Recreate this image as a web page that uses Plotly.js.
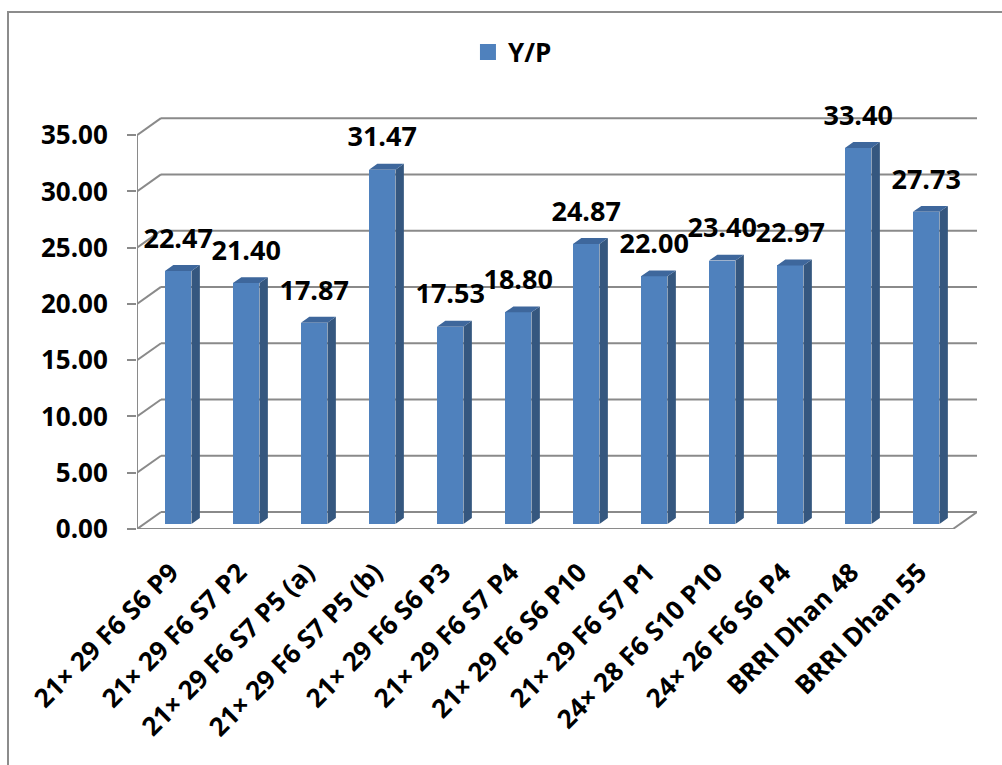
<!DOCTYPE html>
<html>
<head>
<meta charset="utf-8">
<script src="https://cdn.plot.ly/plotly-3.0.1.min.js"></script>
<style>
  html, body { margin: 0; padding: 0; background: #ffffff; }
  #wrap { position: relative; width: 1002px; height: 765px; overflow: hidden; }
  #chart { position: absolute; left: 0; top: 0; width: 1002px; height: 765px; }
  #frame { position: absolute; left: 7px; top: 11px; width: 1000px; height: 752px;
           border-left: 2px solid #8c8c8c; border-top: 2px solid #8c8c8c; pointer-events: none; }
</style>
</head>
<body>
<div id="wrap">
  <div id="chart"></div>
  <div id="frame"></div>
</div>
<script>
// ---- data ----
const categories = [
  "21× 29 F6 S6 P9", "21× 29 F6 S7 P2", "21× 29 F6 S7 P5 (a)", "21× 29 F6 S7 P5 (b)",
  "21× 29 F6 S6 P3", "21× 29 F6 S7 P4", "21× 29 F6 S6 P10", "21× 29 F6 S7 P1",
  "24× 28 F6 S10 P10", "24× 26 F6 S6 P4", "BRRI Dhan 48", "BRRI Dhan 55"
];
const ypValues = [22.47, 21.40, 17.87, 31.47, 17.53, 18.80, 24.87, 22.00, 23.40, 22.97, 33.40, 27.73];
const seriesName = "Y/P";
const yTickValues = [0, 5, 10, 15, 20, 25, 30, 35];

// ---- 3D look (styling constants, axis units) ----
const DEPTH_X = 0.353, DEPTH_Y = 1.51;   // back-wall offset
const Z0 = 0.30, Z1 = 0.65;              // bar depth span (fraction of depth)
const BAR_W = 0.39;
const LABEL_GAP = 2.67;
const FRONT = "#4F81BD", SIDE = "#35577F", TOP = "#3E679C", GRID = "#8a8a8a";
const FONT = "'Open Sans', 'Noto Sans', sans-serif";

const n = categories.length;
const centers = categories.map((_, i) => i + 0.5);

// side and top faces
const sideX = [], sideY = [], topX = [], topY = [];
ypValues.forEach((v, i) => {
  const xl = centers[i] - BAR_W / 2 + Z0 * DEPTH_X;
  const xr = centers[i] + BAR_W / 2 + Z0 * DEPTH_X;
  const ddx = (Z1 - Z0) * DEPTH_X, y0 = Z0 * DEPTH_Y, y1 = Z1 * DEPTH_Y;
  sideX.push(xr, xr + ddx, xr + ddx, xr, xr, null);
  sideY.push(y0, y1, v + y1, v + y0, y0, null);
  topX.push(xl, xl + ddx, xr + ddx, xr, xl, null);
  topY.push(v + y0, v + y1, v + y1, v + y0, v + y0, null);
});

// frame lines (front axes, tick marks)
const tickLen = 0.8;
const frameX = [0, 0, null, 0, n, null], frameY = [0, yTickValues[yTickValues.length - 1], null, 0, 0, null];
for (let k = 0; k <= n; k++) { frameX.push(k, k, null); frameY.push(0, -tickLen, null); }

// back wall gridlines + side diagonals as shapes below the bars
const shapes = [];
yTickValues.forEach(v => {
  shapes.push({type: "line", xref: "x", yref: "y", layer: "below",
    x0: DEPTH_X, x1: n + DEPTH_X, y0: v + DEPTH_Y, y1: v + DEPTH_Y, line: {color: GRID, width: 2}});
  shapes.push({type: "line", xref: "x", yref: "y", layer: "below",
    x0: 0, x1: DEPTH_X, y0: v, y1: v + DEPTH_Y, line: {color: GRID, width: 2}});
});
shapes.push({type: "line", xref: "x", yref: "y", layer: "below",
  x0: n, x1: n + DEPTH_X, y0: 0, y1: DEPTH_Y, line: {color: GRID, width: 2}});

const traces = [
  { type: "bar", x: centers.map(c => c + Z0 * DEPTH_X), y: ypValues, base: Z0 * DEPTH_Y,
    width: BAR_W, marker: {color: FRONT, line: {width: 0}}, showlegend: false, name: seriesName,
    hoverinfo: "skip" },
  { type: "scatter", mode: "lines", x: sideX, y: sideY, fill: "toself", fillcolor: SIDE,
    line: {width: 0, color: SIDE}, showlegend: false, hoverinfo: "skip" },
  { type: "scatter", mode: "lines", x: topX, y: topY, fill: "toself", fillcolor: TOP,
    line: {width: 0, color: TOP}, showlegend: false, hoverinfo: "skip" },
  { type: "scatter", mode: "lines", x: frameX, y: frameY, line: {color: GRID, width: 2},
    cliponaxis: false, showlegend: false, hoverinfo: "skip" },
  { type: "scatter", mode: "text", x: centers.map(c => c + Z0 * DEPTH_X),
    y: ypValues.map(v => v + Z0 * DEPTH_Y + LABEL_GAP),
    text: ypValues.map(v => v.toFixed(2)), textposition: "middle center",
    textfont: {family: FONT, size: 27, color: "#000", weight: 700},
    cliponaxis: false, showlegend: false, hoverinfo: "skip" },
  { type: "scatter", mode: "markers", x: [null], y: [null], name: seriesName,
    marker: {symbol: "square", size: 16, color: FRONT}, showlegend: true }
];

const layout = {
  width: 1002, height: 765,
  margin: {l: 137, r: 25, t: 116, b: 236},
  paper_bgcolor: "#ffffff", plot_bgcolor: "rgba(0,0,0,0)",
  showlegend: true,
  legend: {orientation: "h", x: 0.394, xanchor: "left", y: 1.155, yanchor: "middle",
    font: {family: FONT, size: 26, color: "#000", weight: 700}, itemwidth: 30},
  xaxis: {range: [0, n + DEPTH_X], tickmode: "array", tickvals: centers, ticktext: categories,
    tickangle: -45, ticks: "", showgrid: false, zeroline: false, showline: false,
    tickfont: {family: FONT, size: 26, color: "#000", weight: 700}, ticklabelstandoff: 22,
    fixedrange: true},
  yaxis: {range: [0, 36.7], tickmode: "array", tickvals: yTickValues,
    ticktext: yTickValues.map(v => v.toFixed(2)), ticks: "outside", ticklen: 9, tickwidth: 2,
    tickcolor: GRID, showgrid: false, zeroline: false, showline: false,
    tickfont: {family: FONT, size: 26, color: "#000", weight: 700}, ticklabelstandoff: 14,
    fixedrange: true},
  shapes: shapes,
  bargap: 0
};

Plotly.newPlot("chart", traces, layout, {displayModeBar: false, staticPlot: true});
</script>
</body>
</html>
